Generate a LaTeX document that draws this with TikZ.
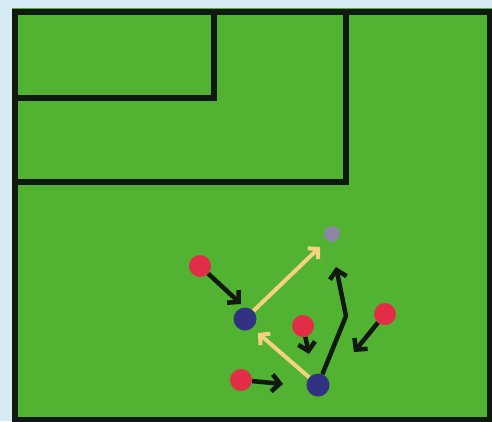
\documentclass[tikz,border=0pt]{standalone}
\usetikzlibrary{arrows.meta}
\definecolor{pitch}{RGB}{82,178,50}
\definecolor{sky}{RGB}{215,235,245}
\definecolor{lineblk}{RGB}{15,25,15}
\definecolor{redp}{RGB}{225,45,70}
\definecolor{bluep}{RGB}{50,50,130}
\definecolor{grayp}{RGB}{140,135,165}
\definecolor{passc}{RGB}{245,210,130}
\tikzset{
  pline/.style={line width=6pt, draw=lineblk},
  redpl/.style={circle, fill=redp, minimum size=22pt, inner sep=0pt},
  bluepl/.style={circle, fill=bluep, minimum size=23pt, inner sep=0pt},
  graypl/.style={circle, fill=grayp, minimum size=16pt, inner sep=0pt},
  runarr/.style={line width=4.5pt, draw=lineblk, line join=round, -{Straight Barb[length=8pt,width=17pt,line width=4.5pt]}},
  passarr/.style={line width=4pt, draw=passc, -{Straight Barb[length=7pt,width=15pt,line width=4pt]}}
}
\begin{document}
\begin{tikzpicture}[x=1pt,y=-1pt]
\useasboundingbox (0,0) rectangle (492,421);
\fill[sky] (0,0) rectangle (492,421);
\fill[pitch] (12,8) rectangle (492,421);
% field lines
\draw[pline] (15,421) -- (15,12) -- (490,12) -- (490,421);
\draw[line width=5pt, draw=lineblk] (12,419) -- (492,419);
\draw[pline] (214,12) -- (214,98) -- (15,98);
\draw[pline] (346,12) -- (346,182) -- (15,182);
% players
\node[redpl] (r1) at (200,266) {};
\node[bluepl] (b1) at (245,319) {};
\node[graypl] (g) at (332,234) {};
\node[redpl] (r2) at (303,326) {};
\node[redpl] (r3) at (385,314) {};
\node[redpl] (r4) at (241,380) {};
\node[bluepl] (b2) at (318,385) {};
% end points
\coordinate (t1) at (241,304);
\coordinate (t2) at (320,247);
\coordinate (t3) at (258,333);
\coordinate (t4) at (309,354);
\coordinate (t5) at (354,352);
\coordinate (t6) at (283,384);
\coordinate (k) at (346,316);
\coordinate (t7) at (336,267);
% passes
\draw[passarr] (b1) -- (t2);
\draw[passarr] (b2) -- (t3);
% runs
\draw[runarr] (r1) -- (t1);
\draw[runarr] (r2) -- (t4);
\draw[runarr] (r3) -- (t5);
\draw[runarr] (r4) -- (t6);
\draw[runarr] (b2) -- (k) -- (t7);
\end{tikzpicture}
\end{document}
